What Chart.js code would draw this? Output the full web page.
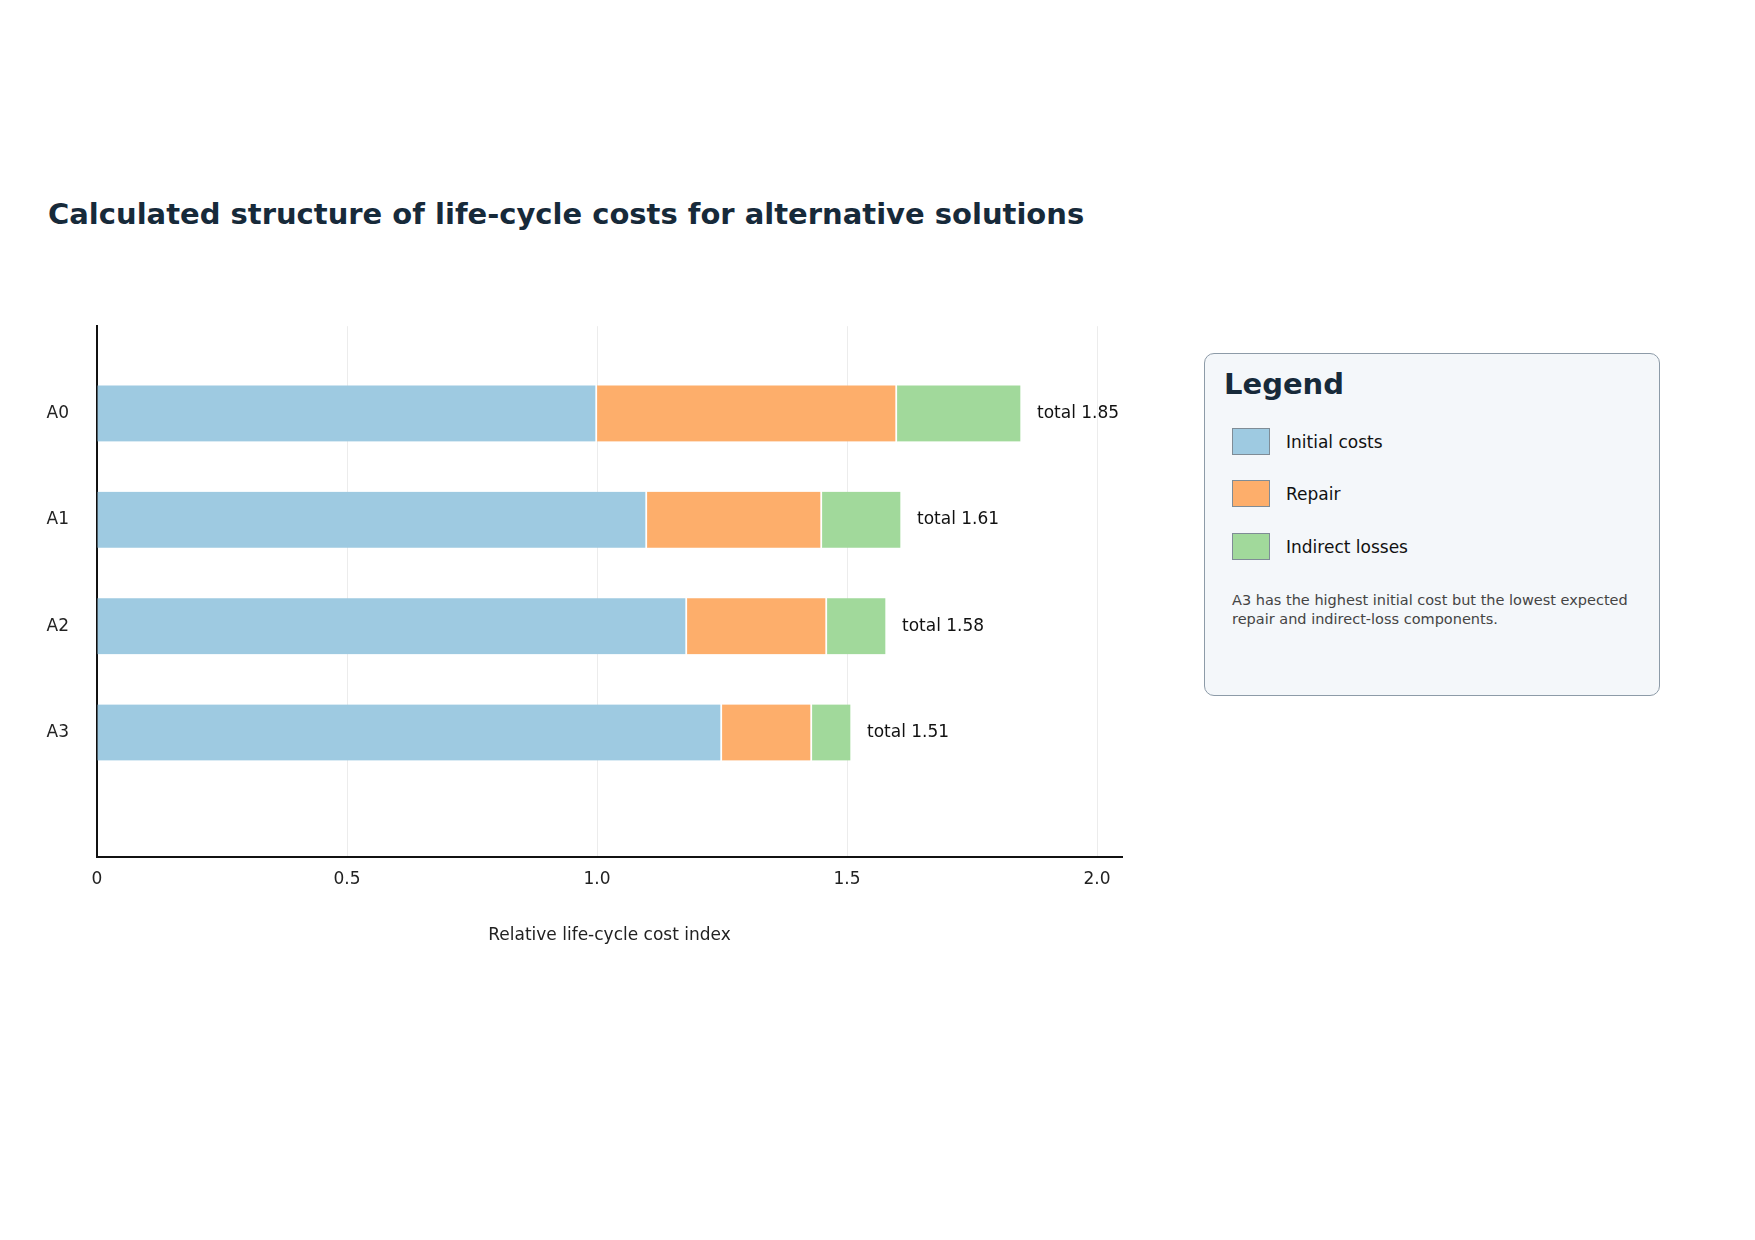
<!DOCTYPE html>
<html>
<head>
<meta charset="utf-8">
<script src="https://cdn.jsdelivr.net/npm/chart.js@4"></script>
<style>
  body { margin: 0; width: 1755px; height: 1240px; background: #fff; font-family: "DejaVu Sans", sans-serif; position: relative; overflow: hidden; }
  #title { position: absolute; left: 48px; top: 197px; font-size: 29px; font-weight: bold; color: #172a3a; }
  #chart-box { position: absolute; left: 35px; top: 288px; width: 1090px; height: 662px; }
  #legend { position: absolute; left: 1204px; top: 353px; width: 456px; height: 343px; border: 1.5px solid #8d9ba8; border-radius: 10px; background: #f4f7fa; box-sizing: border-box; }
  #legend h2 { margin: 0; position: absolute; left: 19px; top: 13px; font-size: 29px; line-height: 34px; color: #172a3a; }
  .item { position: absolute; left: 27px; font-size: 17px; line-height: 26px; color: #111; display: flex; align-items: center; }
  .sw { display: inline-block; width: 36px; height: 25px; border: 1px solid #7f8c96; margin-right: 16px; }
  #note { position: absolute; left: 27px; top: 237px; width: 400px; font-size: 14.5px; line-height: 19px; color: #444; }
</style>
</head>
<body>
<div id="title">Calculated structure of life-cycle costs for alternative solutions</div>
<div id="chart-box"><canvas id="bar-chart"></canvas></div>
<div id="legend">
  <h2>Legend</h2>
  <div class="item" style="top:74px"><span class="sw" style="background:#9ecae1"></span>Initial costs</div>
  <div class="item" style="top:126px"><span class="sw" style="background:#fdae6b"></span>Repair</div>
  <div class="item" style="top:179px"><span class="sw" style="background:#a1d99b"></span>Indirect losses</div>
  <div id="note">A3 has the highest initial cost but the lowest expected repair and indirect-loss components.</div>
</div>
<script>
const categories = ['A0', 'A1', 'A2', 'A3'];
const initialCosts = [1.00, 1.10, 1.18, 1.25];
const repair = [0.60, 0.35, 0.28, 0.18];
const indirectLosses = [0.25, 0.16, 0.12, 0.08];
const totals = [1.85, 1.61, 1.58, 1.51];
const xTicks = [0, 0.5, 1.0, 1.5, 2.0];

const toPoints = arr => arr.map((v, i) => ({ x: v, y: i }));

const totalLabels = {
    id: 'totalLabels',
    afterDatasetsDraw(chart) {
        const ctx = chart.ctx;
        const xs = chart.scales.x, ys = chart.scales.y;
        ctx.save();
        ctx.font = '17px "DejaVu Sans"';
        ctx.fillStyle = '#111';
        ctx.textBaseline = 'middle';
        totals.forEach((t, i) => {
            const sum = initialCosts[i] + repair[i] + indirectLosses[i];
            ctx.fillText('total ' + t.toFixed(2), xs.getPixelForValue(sum) + 15, ys.getPixelForValue(i));
        });
        ctx.restore();
    }
};

const mk = (label, data, color) => ({
    label, data: toPoints(data), backgroundColor: color,
    borderColor: '#fff', borderWidth: { left: 0, right: 2, top: 0, bottom: 0 },
    barThickness: 56, borderSkipped: false
});

new Chart(document.getElementById('bar-chart'), {
    type: 'bar',
    data: {
        datasets: [
            mk('Initial costs', initialCosts, '#9ecae1'),
            mk('Repair', repair, '#fdae6b'),
            mk('Indirect losses', indirectLosses, '#a1d99b')
        ]
    },
    options: {
        indexAxis: 'y',
        responsive: true,
        maintainAspectRatio: false,
        animation: false,
        layout: { padding: { right: 3, top: 8 } },
        plugins: { legend: { display: false }, tooltip: { enabled: false } },
        scales: {
            x: {
                type: 'linear', stacked: true, min: 0, max: 2.05,
                afterBuildTicks: s => { s.ticks = xTicks.map(v => ({ value: v })); },
                afterFit: s => { s.height = 93; },
                ticks: {
                    color: '#222', font: { size: 17, family: 'DejaVu Sans' }, padding: 12,
                    callback: v => v === 0 ? '0' : v.toFixed(1)
                },
                grid: { color: '#ececec', drawTicks: false },
                border: { color: '#111', width: 2 },
                title: { display: true, text: 'Relative life-cycle cost index', color: '#222', font: { size: 17, family: 'DejaVu Sans' }, padding: { top: 22 } }
            },
            y: {
                type: 'linear', stacked: true, reverse: true, offset: false, min: -0.82, max: 4.17,
                afterBuildTicks: s => { s.ticks = categories.map((c, i) => ({ value: i })); },
                afterFit: s => { s.width = 62; },
                ticks: { color: '#222', font: { size: 17, family: 'DejaVu Sans' }, callback: v => categories[v] ?? '', padding: 28 },
                grid: { display: false, drawTicks: false },
                border: { color: '#111', width: 2 }
            }
        }
    },
    plugins: [totalLabels]
});
</script>
</body>
</html>
